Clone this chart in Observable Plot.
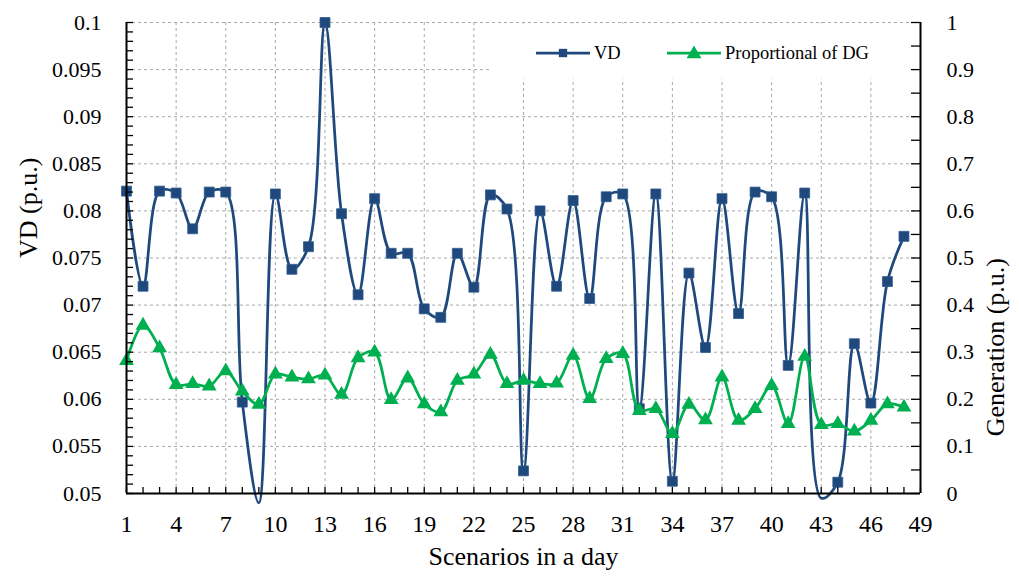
<!DOCTYPE html>
<html><head><meta charset="utf-8">
<script src="https://cdn.jsdelivr.net/npm/d3@7"></script>
<script src="https://cdn.jsdelivr.net/npm/@observablehq/plot@0.6"></script>
<style>body{margin:0;background:#fff} svg{overflow:visible}</style>
</head><body><div id="chart"></div>
<script>
// ---- data ----
const scenarios = d3.range(1, 49);
const vd = [0.0821,0.0720,0.0821,0.0819,0.0781,0.0820,0.0820,0.0597,0.0490,0.0818,
            0.0738,0.0762,0.1000,0.0797,0.0711,0.0813,0.0755,0.0755,0.0696,0.0687,
            0.0755,0.0719,0.0817,0.0802,0.0524,0.0800,0.0720,0.0811,0.0707,0.0815,
            0.0818,0.0590,0.0818,0.0513,0.0734,0.0655,0.0813,0.0691,0.0820,0.0815,
            0.0636,0.0819,0.0495,0.0512,0.0659,0.0596,0.0725,0.0773];
const generation = [0.282,0.357,0.309,0.231,0.233,0.228,0.260,0.217,0.189,0.253,
            0.247,0.243,0.251,0.210,0.288,0.300,0.199,0.245,0.190,0.173,
            0.240,0.253,0.295,0.233,0.240,0.233,0.234,0.293,0.201,0.286,
            0.297,0.176,0.180,0.127,0.189,0.156,0.247,0.155,0.180,0.229,
            0.148,0.291,0.146,0.148,0.132,0.155,0.190,0.183];
const xTickLabels = [1,4,7,10,13,16,19,22,25,28,31,34,37,40,43,46,49];
const leftTickLabels = [0.05,0.055,0.06,0.065,0.07,0.075,0.08,0.085,0.09,0.095,0.1];
const rightTickLabels = [0,0.1,0.2,0.3,0.4,0.5,0.6,0.7,0.8,0.9,1];
const seriesNames = ["VD", "Proportional of DG"];
const xTitle = "Scenarios in a day";
const leftTitle = "VD (p.u.)";
const rightTitle = "Generation (p.u.)";

// ---- layout / style ----
const W = 1019, H = 578, mL = 126, mR = 99, mT = 22, mB = 85;
const innerW = W - mL - mR, innerH = H - mT - mB;
const blue = "#1f497d", green = "#00b050", gridColor = "#a8a8a8";
const font = "'Liberation Serif','Times New Roman',serif";
const vdMin = 0.05, vdMax = 0.1;
const toVD = g => vdMin + g * (vdMax - vdMin);
const rows = scenarios.map((s, i) => ({s, vd: vd[i], gen: toVD(generation[i])}));
const fmt = d => String(+d.toFixed(3));
const xMinor = d3.range(1, 50);
const leftMinor = d3.range(0, 51).map(i => vdMin + i * 0.001);
const rightMinor = d3.range(0, 21).map(i => vdMin + i * 0.0025);

const legendBox = () => d3.create("svg:rect")
  .attr("x", 490).attr("y", 23.5).attr("width", 420).attr("height", 55)
  .attr("fill", "#fff").node();

const legend = () => {
  const g = d3.create("svg:g").attr("font-family", font).attr("text-anchor", "start");
  const items = [
    {name: seriesNames[0], color: blue, sym: d3.symbolSquare, size: 70, x: 536},
    {name: seriesNames[1], color: green, sym: d3.symbolTriangle, size: 95, x: 667}
  ];
  const y = 53;
  for (const it of items) {
    g.append("line").attr("x1", it.x).attr("x2", it.x + 54).attr("y1", y).attr("y2", y)
      .attr("stroke", it.color).attr("stroke-width", 2.75);
    g.append("path").attr("d", d3.symbol(it.sym, it.size)())
      .attr("transform", `translate(${it.x + 27},${y + (it.sym === d3.symbolTriangle ? 1 : 0)})`)
      .attr("fill", it.color);
    g.append("text").attr("x", it.x + 58).attr("y", y + 6).attr("font-size", 18.5)
      .attr("text-anchor", "start").attr("fill", "#000").text(it.name);
  }
  return g.node();
};

const plot = Plot.plot({
  width: W, height: H,
  marginLeft: mL, marginRight: mR, marginTop: mT, marginBottom: mB,
  x: {domain: [1, 49], axis: null},
  y: {domain: [vdMin, vdMax], axis: null},
  style: {fontFamily: font, background: "#fff", color: "#000", overflow: "visible"},
  marks: [
    // grid
    Plot.ruleX(xTickLabels.slice(1, -1), {x: d => d, stroke: gridColor, strokeDasharray: "3,3", strokeWidth: 1}),
    Plot.ruleY(leftTickLabels.slice(1), {y: d => d, stroke: gridColor, strokeDasharray: "3,3", strokeWidth: 1}),
    legendBox,
    // VD series
    Plot.line(rows, {x: "s", y: "vd", stroke: blue, strokeWidth: 2.75, curve: "catmull-rom"}),
    Plot.dot(rows, {x: "s", y: "vd", filter: d => d.vd >= vdMin, symbol: "square", r: 5.6, fill: blue, stroke: "#2f5a8f", strokeWidth: 0.8}),
    // DG series
    Plot.line(rows, {x: "s", y: "gen", stroke: green, strokeWidth: 2.75, curve: "catmull-rom"}),
    Plot.dot(rows, {x: "s", y: "gen", symbol: "triangle", r: 5.5, fill: green}),
    // axis lines
    Plot.ruleX([1, 49], {x: d => d, stroke: "#000", strokeWidth: 2}),
    Plot.ruleY([vdMin], {y: d => d, stroke: "#000", strokeWidth: 2}),
    // inward ticks
    Plot.tickY(leftMinor, {y: d => d, insetRight: innerW - 7, stroke: "#000", strokeWidth: 1.3}),
    Plot.tickY(rightMinor, {y: d => d, insetLeft: innerW - 9, stroke: "#000", strokeWidth: 1.3}),
    Plot.tickX(xMinor, {x: d => d, insetTop: innerH - 6, stroke: "#000", strokeWidth: 1.3}),
    // tick labels
    Plot.text(leftTickLabels, {y: d => d, text: fmt, frameAnchor: "left", textAnchor: "end", dx: -25, fontSize: 22, fill: "#000"}),
    Plot.text(rightTickLabels, {y: d => toVD(d), text: d => String(d), frameAnchor: "right", textAnchor: "start", dx: 26, fontSize: 22, fill: "#000"}),
    Plot.text(xTickLabels, {x: d => d, text: d => String(d), frameAnchor: "bottom", lineAnchor: "top", dy: 21, fontSize: 24, fill: "#000"}),
    // axis titles
    Plot.text([xTitle], {text: d => d, frameAnchor: "bottom", dy: 71, fontSize: 26, fill: "#000"}),
    Plot.text([leftTitle], {text: d => d, frameAnchor: "left", dx: -98, rotate: -90, fontSize: 26, fill: "#000"}),
    Plot.text([rightTitle], {text: d => d, frameAnchor: "right", dx: 75, rotate: -90, fontSize: 26, fill: "#000"}),
    legend
  ]
});
document.getElementById("chart").appendChild(plot);
</script>
</body></html>
